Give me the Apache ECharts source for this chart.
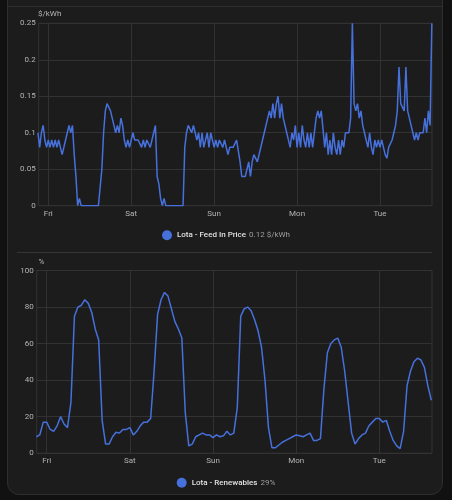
<!DOCTYPE html>
<html>
<head>
<meta charset="utf-8">
<script src="https://cdn.jsdelivr.net/npm/echarts@6/dist/echarts.min.js"></script>
<style>
  html, body { margin: 0; padding: 0; background: #111111; width: 452px; height: 500px; overflow: hidden; }
  #card { position: absolute; left: 7px; top: -20px; width: 436px; height: 515px; box-sizing: border-box;
          background: #1c1c1c; border: 1px solid #2e2e2e; border-radius: 12px; }
  #topline { position: absolute; left: 7px; top: 6px; width: 436px; height: 1px; background: #2e2e2e; }
  #sep { position: absolute; left: 17px; top: 252px; width: 415px; height: 1px; background: #353535; }
  #chart { position: absolute; left: 0; top: 0; width: 452px; height: 500px; }
</style>
</head>
<body>
<div id="card"></div>
<div id="topline"></div>
<div id="sep"></div>
<div id="chart"></div>
<script>
// ---- data ----
const dayHours = [0, 24, 48, 72, 96];           // hours from Friday 00:00
const dayLabels = ['Fri', 'Sat', 'Sun', 'Mon', 'Tue'];
const priceTicks = [0, 0.05, 0.1, 0.15, 0.2, 0.25];
const renewTicks = [0, 20, 40, 60, 80, 100];
const seriesNames = ['Lota - Feed In Price', 'Lota - Renewables'];
const currentValues = ['0.12 $/kWh', '29%'];
const unitNames = ['$/kWh', '%'];

// Feed-in price ($/kWh), every 0.5 h starting at Thu 21:00 (-3 h)
const priceStart = -3, priceStep = 0.5;
const priceValues = [
  0.10, 0.08, 0.10, 0.11, 0.09, 0.08, 0.09, 0.08, 0.09, 0.08, 0.09, 0.08,
  0.09, 0.08, 0.07, 0.08, 0.09, 0.10, 0.11, 0.10, 0.11, 0.07, 0.04, 0.00,
  0.01, 0, 0, 0, 0, 0, 0, 0, 0, 0, 0, 0,
  0, 0.05, 0.10, 0.13, 0.14, 0.14, 0.13, 0.12, 0.11, 0.10, 0.11, 0.10,
  0.12, 0.11, 0.09, 0.08, 0.09, 0.08, 0.09, 0.10, 0.09, 0.09, 0.09, 0.09,
  0.08, 0.09, 0.08, 0.09, 0.09, 0.08, 0.09, 0.10, 0.11, 0.04, 0.03, 0.01,
  0, 0.01, 0, 0, 0, 0, 0, 0, 0, 0, 0, 0,
  0, 0.08, 0.10, 0.11, 0.11, 0.10, 0.11, 0.10, 0.09, 0.10, 0.08, 0.10,
  0.08, 0.09, 0.10, 0.08, 0.10, 0.09, 0.08, 0.09, 0.08, 0.09, 0.09, 0.08,
  0.09, 0.08, 0.07, 0.08, 0.08, 0.08, 0.08, 0.09, 0.09, 0.06, 0.04, 0.04,
  0.04, 0.04, 0.06, 0.04, 0.06, 0.07, 0.07, 0.06, 0.07, 0.07, 0.09, 0.10,
  0.11, 0.11, 0.13, 0.12, 0.14, 0.12, 0.14, 0.15, 0.12, 0.14, 0.12, 0.11,
  0.10, 0.10, 0.08, 0.10, 0.09, 0.11, 0.08, 0.10, 0.08, 0.11, 0.09, 0.08,
  0.10, 0.08, 0.10, 0.08, 0.10, 0.12, 0.13, 0.12, 0.13, 0.13, 0.08, 0.10,
  0.07, 0.09, 0.07, 0.10, 0.08, 0.07, 0.09, 0.07, 0.09, 0.08, 0.10, 0.10,
  0.10, 0.12, 0.25, 0.14, 0.13, 0.14, 0.12, 0.13, 0.11, 0.10, 0.10, 0.08,
  0.10, 0.08, 0.07, 0.09, 0.08, 0.09, 0.08, 0.09, 0.08, 0.07, 0.065, 0.08,
  0.08, 0.09, 0.10, 0.11, 0.13, 0.19, 0.14, 0.14, 0.13, 0.19, 0.13, 0.12,
  0.11, 0.10, 0.09, 0.10, 0.09, 0.10, 0.10, 0.10, 0.12, 0.10, 0.13, 0.11,
  0.25
];

// Renewables (%), hourly starting at Thu 21:00 (-3 h)
const renewStart = -3, renewStep = 1;
const renewValues = [
  9, 10, 17, 17, 13, 12, 15, 20, 16, 14, 28, 75,
  80, 81, 84, 82, 77, 68, 62, 18, 5, 5, 9, 11.5,
  11, 13, 13, 14, 10, 12, 15, 17, 17, 19, 45, 76,
  84, 88, 86, 79, 72, 68, 63, 22, 4, 5, 9, 10,
  11, 10, 10, 8.5, 10, 9, 9.5, 12, 10, 11, 25, 75,
  79, 80, 78, 73, 67, 58, 40, 14, 3, 3, 4.5, 6,
  7, 8, 9, 10, 9.5, 9, 10, 11, 7, 7, 8, 35,
  55, 60, 62, 63, 58, 45, 28, 11, 5, 8, 10, 11,
  15, 17, 19, 19, 17, 18, 12, 7, 4, 2.5, 12, 37,
  45, 50, 52, 51, 47, 37, 29
];

// ---- chart ----
const lineColor = '#4670dc';
const gridColor = '#323232';
const labelColor = '#b4b4b4';
const font = 'Roboto';

const priceData = priceValues.map((v, i) => [priceStart + i * priceStep, v]);
const renewData = renewValues.map((v, i) => [renewStart + i * renewStep, v]);

function xAxisFor(gridIndex, min, max) {
  return {
    type: 'value', gridIndex, min, max,
    axisLine: { show: false },
    axisTick: { show: false, customValues: dayHours },
    axisLabel: {
      customValues: dayHours,
      formatter: v => dayLabels[dayHours.indexOf(v)],
      color: labelColor, fontSize: 8, fontFamily: font, margin: 4
    },
    splitLine: { show: true, lineStyle: { color: gridColor, width: 1 } }
  };
}
function yAxisFor(gridIndex, ticks, fmt) {
  return {
    type: 'value', gridIndex, min: ticks[0], max: ticks[ticks.length - 1],
    interval: ticks[1] - ticks[0],
    axisLine: { show: false }, axisTick: { show: false },
    axisLabel: { color: labelColor, fontSize: 8, fontFamily: font, margin: 3, formatter: fmt },
    splitLine: { show: true, lineStyle: { color: gridColor, width: 1 } }
  };
}
function legendFor(index, top) {
  return {
    data: [seriesNames[index]], top, left: 'center', padding: 0,
    icon: 'circle', itemWidth: 10, itemHeight: 10,
    formatter: name => '{n|' + name + '} {v|' + currentValues[index] + '}',
    textStyle: {
      fontFamily: font,
      rich: {
        n: { color: '#e1e1e1', fontSize: 8, fontWeight: 500, fontFamily: font },
        v: { color: '#9e9e9e', fontSize: 8, fontFamily: font }
      }
    }
  };
}
function unitText(text, left, top) {
  return {
    type: 'text', left, top, silent: true,
    style: { text, fill: labelColor, fontSize: 8, fontFamily: font }
  };
}

const chart = echarts.init(document.getElementById('chart'), null, { renderer: 'canvas' });
chart.setOption({
  animation: false,
  backgroundColor: 'transparent',
  grid: [
    { left: 38.7, top: 23.3, width: 393.3, height: 182.4, show: true, borderColor: gridColor, borderWidth: 1, containLabel: false },
    { left: 36.7, top: 270.5, width: 395.3, height: 182.7, show: true, borderColor: gridColor, borderWidth: 1, containLabel: false }
  ],
  xAxis: [ xAxisFor(0, -2.78, 111.05), xAxisFor(1, -2.89, 111.2) ],
  yAxis: [
    yAxisFor(0, priceTicks, v => String(+v.toFixed(2))),
    yAxisFor(1, renewTicks, v => String(v))
  ],
  legend: [ legendFor(0, 229.3), legendFor(1, 476.7) ],
  graphic: [ unitText(unitNames[0], 38, 10), unitText(unitNames[1], 38.5, 258) ],
  series: [
    {
      name: seriesNames[0], type: 'line', xAxisIndex: 0, yAxisIndex: 0,
      data: priceData, showSymbol: false, symbol: 'circle',
      lineStyle: { color: lineColor, width: 1.5 }, itemStyle: { color: lineColor }
    },
    {
      name: seriesNames[1], type: 'line', xAxisIndex: 1, yAxisIndex: 1,
      data: renewData, showSymbol: false, symbol: 'circle',
      lineStyle: { color: lineColor, width: 1.5 }, itemStyle: { color: lineColor }
    }
  ]
});
</script>
</body>
</html>
